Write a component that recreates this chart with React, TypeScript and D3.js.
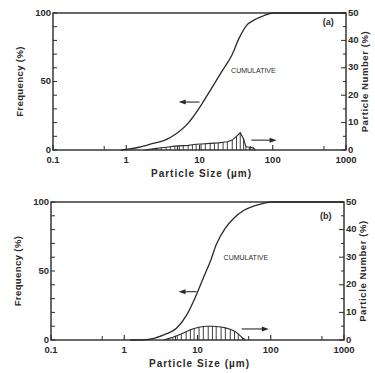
import React from "react";
import * as d3 from "d3";

// ---------- data ----------
const xTickValues = [0.1, 1, 10, 100, 1000];
const xTickLabels = ["0.1", "1", "10", "100", "1000"];
const xMinorTicks = [0.5, 5, 50, 500];
const leftTickLabels = [0, 50, 100];
const rightTickLabels = [0, 10, 20, 30, 40, 50];

// panel (a) cumulative frequency (%)
const cumSizesA = [0.85, 1, 1.5, 2.4, 3.3, 4.1, 7.1, 10.6, 14.6, 20, 27.5, 35, 44, 56, 75, 100, 1000];
const cumValuesA = [0, 0.4, 2, 5, 7, 9.5, 20, 33, 45, 57, 69, 82, 91, 95, 98, 100, 100];

// panel (a) particle number (%)
const histSizesA = [1.8, 2, 2.3, 2.6, 3, 3.5, 4, 4.6, 5.3, 6, 7, 8, 9, 10.5, 12, 14, 16, 18, 21, 24, 28, 32, 36, 40, 43, 48, 54, 58];
const histValuesA = [0, 0.2, 0.4, 0.6, 0.8, 1.0, 1.2, 1.4, 1.5, 1.6, 1.7, 1.9, 2.1, 2.2, 2.3, 2.4, 2.5, 2.6, 2.8, 3.0, 3.6, 5.0, 6.3, 4.0, 1.2, 1.0, 0.8, 0];

// panel (b) cumulative frequency (%)
const cumSizesB = [1.2, 2, 3.4, 5.2, 7.1, 9.7, 12, 15, 18, 24, 31, 43, 58, 80, 100, 1000];
const cumValuesB = [0, 0.3, 3.6, 8.7, 18, 33, 45, 57, 69, 81, 88, 94, 97, 99, 100, 100];

// panel (b) particle number (%)
const histSizesB = [3.5, 4, 4.6, 5.3, 6, 7, 8, 9, 10.5, 12, 14, 16, 18, 21, 24, 28, 32, 36, 41, 45];
const histValuesB = [0, 0.5, 1.0, 1.6, 2.2, 3.0, 3.7, 4.2, 4.6, 4.9, 5.0, 5.0, 4.9, 4.7, 4.4, 3.9, 3.2, 2.2, 0.8, 0];

const panelLabels = ["(a)", "(b)"];
const curveLabel = "CUMULATIVE";
const xTitle = "Particle Size (\u00b5m)";
const leftTitle = "Frequency (%)";
const rightTitle = "Particle Number (%)";

// ---------- style ----------
const INK = "#2a2a2a";
const FONT = "'Liberation Sans', Arial, sans-serif";

type Frame = { left: number; right: number; top: number; bottom: number };
type Ann = {
  leftArrow: [number, number, number];
  rightArrow: [number, number, number];
  label: [number, number];
  tag: [number, number];
};

function Panel({
  frame,
  cumSizes,
  cumValues,
  histSizes,
  histValues,
  tag,
  ann,
}: {
  frame: Frame;
  cumSizes: number[];
  cumValues: number[];
  histSizes: number[];
  histValues: number[];
  tag: string;
  ann: Ann;
}) {
  const x = d3.scaleLog().domain([0.1, 1000]).range([frame.left, frame.right]);
  const yL = d3.scaleLinear().domain([0, 100]).range([frame.bottom, frame.top]);
  const yR = d3.scaleLinear().domain([0, 50]).range([frame.bottom, frame.top]);

  const cumLine = d3
    .line<number>()
    .x((d, i) => x(cumSizes[i]))
    .y((d) => yL(d))
    .curve(d3.curveMonotoneX)(cumValues) as string;

  const histLine = d3
    .line<number>()
    .x((d, i) => x(histSizes[i]))
    .y((d) => yR(d))
    .curve(d3.curveLinear)(histValues) as string;

  const leftMinor = d3.range(0, 101, 10);
  const rightMinor = d3.range(0, 51, 5);

  const [la0, la1, lay] = ann.leftArrow;
  const [ra0, ra1, ray] = ann.rightArrow;

  return (
    <g>
      {histValues.map((v, i) => (
        <line
          key={"h" + i}
          x1={x(histSizes[i])}
          x2={x(histSizes[i])}
          y1={yR(0)}
          y2={yR(v)}
          stroke={INK}
          strokeWidth={0.9}
        />
      ))}
      <path d={histLine} fill="none" stroke={INK} strokeWidth={1.1} />

      <path d={cumLine} fill="none" stroke={INK} strokeWidth={1.3} />

      <rect
        x={frame.left}
        y={frame.top}
        width={frame.right - frame.left}
        height={frame.bottom - frame.top}
        fill="none"
        stroke={INK}
        strokeWidth={1.4}
      />

      {xTickValues.map((t, i) => (
        <g key={"xt" + i}>
          <line x1={x(t)} x2={x(t)} y1={frame.bottom} y2={frame.bottom - 5} stroke={INK} strokeWidth={1.1} />
          <text
            x={x(t)}
            y={frame.bottom + 12.5}
            textAnchor="middle"
            fontSize={9.5}
            fontWeight="bold"
            fontFamily={FONT}
            fill={INK}
          >
            {xTickLabels[i]}
          </text>
        </g>
      ))}
      {xMinorTicks.map((t, i) => (
        <line key={"xm" + i} x1={x(t)} x2={x(t)} y1={frame.bottom} y2={frame.bottom - 4} stroke={INK} strokeWidth={1} />
      ))}

      {leftMinor.map((t) => (
        <line key={"lt" + t} x1={frame.left} x2={frame.left + 4} y1={yL(t)} y2={yL(t)} stroke={INK} strokeWidth={1} />
      ))}
      {leftTickLabels.map((t) => (
        <text
          key={"ll" + t}
          x={frame.left - 2}
          y={yL(t) + 2.5}
          textAnchor="end"
          fontSize={9.5}
          fontWeight="bold"
          fontFamily={FONT}
          fill={INK}
        >
          {t}
        </text>
      ))}

      {rightMinor.map((t) => (
        <line
          key={"rt" + t}
          x1={frame.right - (t % 10 === 0 ? 5 : 3)}
          x2={frame.right}
          y1={yR(t)}
          y2={yR(t)}
          stroke={INK}
          strokeWidth={1}
        />
      ))}
      {rightTickLabels.map((t) => (
        <text
          key={"rl" + t}
          x={frame.right + 2}
          y={yR(t) + 2.5}
          textAnchor="start"
          fontSize={9.5}
          fontWeight="bold"
          fontFamily={FONT}
          fill={INK}
        >
          {t}
        </text>
      ))}

      <text
        x={(frame.left + frame.right) / 2 + 2}
        y={frame.bottom + 27}
        textAnchor="middle"
        fontSize={10}
        fontWeight="bold"
        letterSpacing={1}
        fontFamily={FONT}
        fill={INK}
      >
        {xTitle}
      </text>
      <text
        transform={`translate(${frame.left - 30},${(frame.top + frame.bottom) / 2}) rotate(-90)`}
        textAnchor="middle"
        fontSize={9.5}
        fontWeight="bold"
        letterSpacing={0.4}
        fontFamily={FONT}
        fill={INK}
      >
        {leftTitle}
      </text>
      <text
        transform={`translate(${frame.right + 22},${(frame.top + frame.bottom) / 2}) rotate(-90)`}
        textAnchor="middle"
        fontSize={9.5}
        fontWeight="bold"
        letterSpacing={0.6}
        fontFamily={FONT}
        fill={INK}
      >
        {rightTitle}
      </text>

      <line x1={x(la0) + 5} x2={x(la1)} y1={yL(lay)} y2={yL(lay)} stroke={INK} strokeWidth={1.1} />
      <path d={`M${x(la0)},${yL(lay)} l7,-2.5 l0,5 z`} fill={INK} />
      <line x1={x(ra0)} x2={x(ra1) - 5} y1={yR(ray)} y2={yR(ray)} stroke={INK} strokeWidth={1.1} />
      <path d={`M${x(ra1)},${yR(ray)} l-7,-2.5 l0,5 z`} fill={INK} />
      <text x={x(ann.label[0])} y={yL(ann.label[1])} fontSize={7} fontFamily={FONT} fill={INK}>
        {curveLabel}
      </text>
      <text
        x={x(ann.tag[0])}
        y={yL(ann.tag[1])}
        fontSize={9}
        fontWeight="bold"
        fontFamily={FONT}
        fill={INK}
      >
        {tag}
      </text>
    </g>
  );
}

export default function App() {
  return (
    <svg
      width={375}
      height={373}
      style={{ position: "absolute", left: 0, top: 0, background: "#fff" }}
    >
      <rect width={375} height={373} fill="#fff" />
      <Panel
        frame={{ left: 53, right: 346, top: 13, bottom: 150 }}
        cumSizes={cumSizesA}
        cumValues={cumValuesA}
        histSizes={histSizesA}
        histValues={histValuesA}
        tag={panelLabels[0]}
        ann={{
          leftArrow: [5.2, 10, 35],
          rightArrow: [51, 113, 3.6],
          label: [27, 56],
          tag: [480, 91],
        }}
      />
      <Panel
        frame={{ left: 51, right: 344, top: 202, bottom: 340 }}
        cumSizes={cumSizesB}
        cumValues={cumValuesB}
        histSizes={histSizesB}
        histValues={histValuesB}
        tag={panelLabels[1]}
        ann={{
          leftArrow: [5.5, 9.7, 35],
          rightArrow: [40, 94, 4],
          label: [22.7, 58],
          tag: [470, 88],
        }}
      />
    </svg>
  );
}
